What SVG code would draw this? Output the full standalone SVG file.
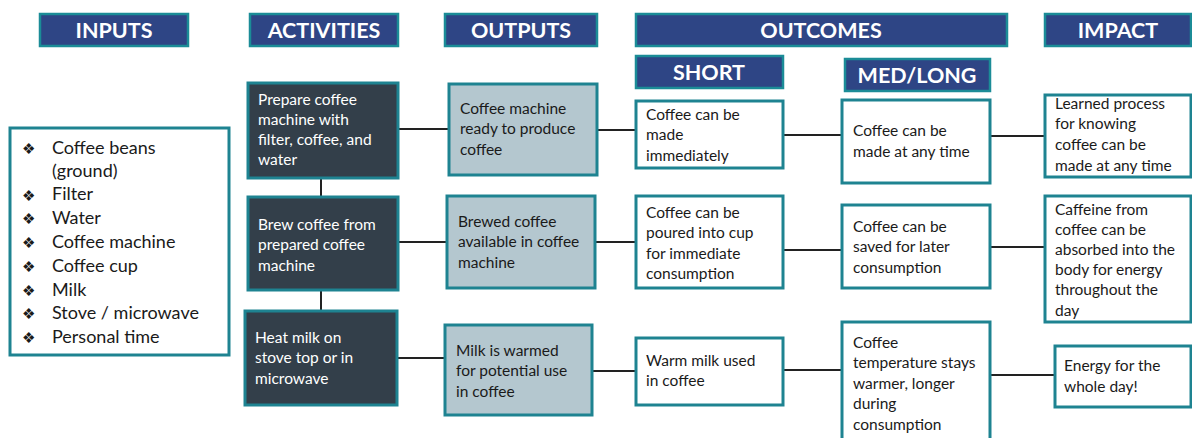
<svg xmlns="http://www.w3.org/2000/svg" width="1192" height="438" viewBox="0 0 1192 438">
<style>
.hdr{fill:#2E4585;stroke:#1B8C97;stroke-width:2.5}
.ht{fill:#fff;font-family:Lato,"Open Sans",sans-serif;font-weight:bold;font-size:21.5px;text-anchor:middle}
.act{fill:#333F4A;stroke:#1E8391;stroke-width:3}
.out{fill:#B4C7CF;stroke:#1E8391;stroke-width:3}
.oc{fill:#fff;stroke:#1E8391;stroke-width:3}
.t{font-family:Lato,"Open Sans",sans-serif;font-size:15.5px;fill:#1a1a1a}
.tw{font-family:Lato,"Open Sans",sans-serif;font-size:15.5px;fill:#fff}
.li{font-family:Lato,"Open Sans",sans-serif;font-size:18px;fill:#1a1a1a}
.bu{font-family:"DejaVu Sans",sans-serif;font-size:15px;fill:#1a1a1a}
.c{stroke:#222;stroke-width:2;fill:none}
</style>
<rect width="1192" height="438" fill="#fff"/>
<g id="headers">
<g id="h-inputs"><rect class="hdr" x="40" y="14" width="148" height="32"/><text class="ht" x="114" y="37.5">INPUTS</text></g>
<g id="h-activities"><rect class="hdr" x="250" y="14" width="148" height="32"/><text class="ht" x="324" y="37.5">ACTIVITIES</text></g>
<g id="h-outputs"><rect class="hdr" x="445" y="14" width="152" height="32"/><text class="ht" x="521" y="37.5">OUTPUTS</text></g>
<g id="h-outcomes"><rect class="hdr" x="636" y="14" width="371" height="32"/><text class="ht" x="821" y="37.5">OUTCOMES</text></g>
<g id="h-impact"><rect class="hdr" x="1045" y="14" width="146" height="32"/><text class="ht" x="1118" y="37.5">IMPACT</text></g>
<g id="h-short"><rect class="hdr" x="636" y="56" width="147" height="32"/><text class="ht" x="709" y="79.5">SHORT</text></g>
<g id="h-medlong"><rect class="hdr" x="845" y="59" width="145" height="32"/><text class="ht" x="917" y="82.5">MED/LONG</text></g>
</g>
<g id="connectors">
<line class="c" x1="321" y1="178" x2="321" y2="197"/>
<line class="c" x1="321" y1="290" x2="321" y2="311"/>
<line class="c" x1="398" y1="129" x2="449" y2="129"/>
<line class="c" x1="597" y1="130" x2="636" y2="130"/>
<line class="c" x1="783" y1="135" x2="842" y2="135"/>
<line class="c" x1="990" y1="136" x2="1045" y2="136"/>
<line class="c" x1="398" y1="242" x2="447" y2="242"/>
<line class="c" x1="595" y1="242" x2="636" y2="242"/>
<line class="c" x1="783" y1="250" x2="842" y2="250"/>
<line class="c" x1="990" y1="247" x2="1045" y2="247"/>
<line class="c" x1="397" y1="358" x2="445" y2="358"/>
<line class="c" x1="592" y1="371" x2="636" y2="371"/>
<line class="c" x1="783" y1="370" x2="842" y2="370"/>
<line class="c" x1="990" y1="375" x2="1055" y2="375"/>
</g>
<g id="inputs">
<rect class="oc" x="10" y="128" width="219" height="227"/>
<g class="bu"><text x="22" y="154">❖</text><text x="22" y="201">❖</text><text x="22" y="224">❖</text><text x="22" y="248">❖</text><text x="22" y="272">❖</text><text x="22" y="296">❖</text><text x="22" y="319">❖</text><text x="22" y="343">❖</text></g>
<text class="li" x="52" y="154">Coffee beans</text>
<text class="li" x="52" y="177">(ground)</text>
<text class="li" x="52" y="200">Filter</text>
<text class="li" x="52" y="224">Water</text>
<text class="li" x="52" y="248">Coffee machine</text>
<text class="li" x="52" y="272">Coffee cup</text>
<text class="li" x="52" y="296">Milk</text>
<text class="li" x="52" y="319">Stove / microwave</text>
<text class="li" x="52" y="343">Personal time</text>
</g>
<g id="act1"><rect class="act" x="248" y="83" width="150" height="95"/>
<text class="tw" x="258" y="105">Prepare coffee</text><text class="tw" x="258" y="125">machine with</text><text class="tw" x="258" y="145">filter, coffee, and</text><text class="tw" x="258" y="165">water</text></g>
<g id="act2"><rect class="act" x="248" y="197" width="150" height="93"/>
<text class="tw" x="258" y="230">Brew coffee from</text><text class="tw" x="258" y="250">prepared coffee</text><text class="tw" x="258" y="271">machine</text></g>
<g id="act3"><rect class="act" x="245" y="311" width="152" height="94"/>
<text class="tw" x="255" y="343">Heat milk on</text><text class="tw" x="255" y="363">stove top or in</text><text class="tw" x="255" y="384">microwave</text></g>
<g id="out1"><rect class="out" x="449" y="84" width="148" height="91"/>
<text class="t" x="460" y="114">Coffee machine</text><text class="t" x="460" y="134">ready to produce</text><text class="t" x="460" y="155">coffee</text></g>
<g id="out2"><rect class="out" x="447" y="196" width="148" height="92"/>
<text class="t" x="458" y="227">Brewed coffee</text><text class="t" x="458" y="247">available in coffee</text><text class="t" x="458" y="268">machine</text></g>
<g id="out3"><rect class="out" x="445" y="325" width="147" height="90"/>
<text class="t" x="456" y="356">Milk is warmed</text><text class="t" x="456" y="376">for potential use</text><text class="t" x="456" y="397">in coffee</text></g>
<g id="short1"><rect class="oc" x="636" y="101" width="147" height="67"/>
<text class="t" x="646" y="120">Coffee can be</text><text class="t" x="646" y="140">made</text><text class="t" x="646" y="161">immediately</text></g>
<g id="short2"><rect class="oc" x="636" y="196" width="147" height="92"/>
<text class="t" x="646" y="218">Coffee can be</text><text class="t" x="646" y="238">poured into cup</text><text class="t" x="646" y="259">for immediate</text><text class="t" x="646" y="279">consumption</text></g>
<g id="short3"><rect class="oc" x="636" y="338" width="147" height="67"/>
<text class="t" x="646" y="366">Warm milk used</text><text class="t" x="646" y="386">in coffee</text></g>
<g id="med1"><rect class="oc" x="842" y="100" width="148" height="83"/>
<text class="t" x="853" y="136">Coffee can be</text><text class="t" x="853" y="157">made at any time</text></g>
<g id="med2"><rect class="oc" x="842" y="205" width="148" height="83"/>
<text class="t" x="853" y="232">Coffee can be</text><text class="t" x="853" y="252">saved for later</text><text class="t" x="853" y="273">consumption</text></g>
<g id="med3"><rect class="oc" x="842" y="322" width="148" height="120"/>
<text class="t" x="853" y="348">Coffee</text><text class="t" x="853" y="368">temperature stays</text><text class="t" x="853" y="389">warmer, longer</text><text class="t" x="853" y="409">during</text><text class="t" x="853" y="430">consumption</text></g>
<g id="imp1"><rect class="oc" x="1045" y="95" width="146" height="82"/>
<text class="t" x="1055" y="109">Learned process</text><text class="t" x="1055" y="129">for knowing</text><text class="t" x="1055" y="150">coffee can be</text><text class="t" x="1055" y="171">made at any time</text></g>
<g id="imp2"><rect class="oc" x="1045" y="196" width="146" height="126"/>
<text class="t" x="1055" y="215">Caffeine from</text><text class="t" x="1055" y="235">coffee can be</text><text class="t" x="1055" y="255">absorbed into the</text><text class="t" x="1055" y="275">body for energy</text><text class="t" x="1055" y="295">throughout the</text><text class="t" x="1055" y="316">day</text></g>
<g id="imp3"><rect class="oc" x="1055" y="346" width="136" height="61"/>
<text class="t" x="1064" y="371">Energy for the</text><text class="t" x="1064" y="392">whole day!</text></g>
</svg>
